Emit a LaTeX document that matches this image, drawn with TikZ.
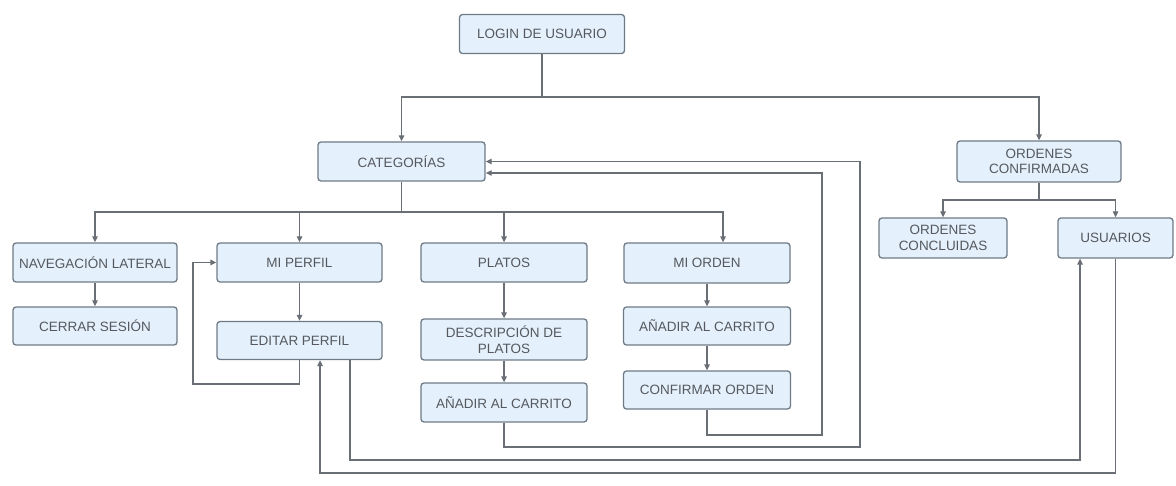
\documentclass[tikz,border=0pt]{standalone}
\usepackage{fontspec}
\setmainfont{Liberation Sans}
\usetikzlibrary{arrows.meta,positioning,calc}
\definecolor{boxfill}{HTML}{E4F0FB}
\definecolor{boxline}{HTML}{6E7A86}
\definecolor{txt}{HTML}{55595F}
\definecolor{conn}{HTML}{6A6F75}
\tikzset{
  box/.style={draw=boxline, fill=boxfill, rounded corners=3pt, line width=1.3pt,
    text=txt, minimum width=165pt, minimum height=39pt, inner sep=0pt, align=center,
    font=\fontsize{13.5}{15.5}\selectfont},
  arr/.style={draw=conn, line width=1.3pt, -{Triangle[length=6pt,width=5.5pt]}},
  ln/.style={draw=conn, line width=1.3pt}
}
\begin{document}
\begin{tikzpicture}[x=1pt,y=-1pt]
\useasboundingbox (0,0) rectangle (1176,486);
% nodes
\node[box] (login) at (542,34) {LOGIN DE USUARIO};
\node[box, minimum width=167pt] (cat) at (401.5,161.5) {CATEGORÍAS};
\node[box, minimum width=164pt, minimum height=41pt] (conf) at (1039,161.5) {ORDENES\\CONFIRMADAS};
\node[box, minimum width=164pt] (nav) at (95,262.5) {NAVEGACIÓN LATERAL};
\node[box] (perfil) at (299.5,262.5) {MI PERFIL};
\node[box, minimum width=166pt] (platos) at (504,262.5) {PLATOS};
\node[box, minimum width=166pt, minimum height=40pt] (orden) at (707,263) {MI ORDEN};
\node[box, minimum width=164pt, minimum height=38pt] (cerrar) at (95,326) {CERRAR SESIÓN};
\node[box, minimum height=38pt] (editar) at (299.5,340.5) {EDITAR PERFIL};
\node[box, minimum width=166pt, minimum height=41pt] (desc) at (504,339.5) {DESCRIPCIÓN DE\\PLATOS};
\node[box, minimum width=166pt] (anadir1) at (504,402.5) {AÑADIR AL CARRITO};
\node[box, minimum width=167pt, minimum height=38pt] (anadir2) at (707,326) {AÑADIR AL CARRITO};
\node[box, minimum width=167pt, minimum height=38pt] (confirm) at (707,390) {CONFIRMAR ORDEN};
\node[box, minimum width=128pt, minimum height=40pt] (concl) at (943,238) {ORDENES\\CONCLUIDAS};
\node[box, minimum width=115pt, minimum height=40pt] (usu) at (1115.5,238) {USUARIOS};
% junction coordinates
\coordinate (j1) at (542,97);
\coordinate (j2) at (401.5,212);
\coordinate (j3) at (1039,200);
\coordinate (c1) at (193,384);
\coordinate (c2) at (860,447);
\coordinate (c3) at (822,435);
\coordinate (c4) at (1080,460);
\coordinate (c5) at (320,473);
% connectors
\draw[ln] (login.south) -- (j1);
\draw[arr] (j1) -| (cat.north);
\draw[arr] (j1) -| (conf.north);
\draw[ln] (cat.south) -- (j2);
\draw[arr] (j2) -| (nav.north);
\draw[arr] (j2) -| (perfil.north);
\draw[arr] (j2) -| (platos.north);
\draw[arr] (j2) -| ([xshift=16pt]orden.north);
\draw[arr] (nav.south) -- (cerrar.north);
\draw[arr] (perfil.south) -- (editar.north);
\draw[arr] (platos.south) -- (desc.north);
\draw[arr] (desc.south) -- (anadir1.north);
\draw[arr] (orden.south) -- (anadir2.north);
\draw[arr] (anadir2.south) -- (confirm.north);
\draw[arr] (editar.south) |- (c1) |- (perfil.west);
\draw[arr] (anadir1.south) |- (c2) |- (cat.east);
\draw[arr] (confirm.south) |- (c3) |- ([yshift=-11.5pt]cat.east);
\draw[arr] ([xshift=50.5pt]editar.south) |- (c4) -- (c4 |- usu.south);
\draw[arr] (usu.south) |- (c5) -- (c5 |- editar.south);
\draw[ln] (conf.south) -- (j3);
\draw[arr] (j3) -| (concl.north);
\draw[arr] (j3) -| (usu.north);
\end{tikzpicture}
\end{document}
